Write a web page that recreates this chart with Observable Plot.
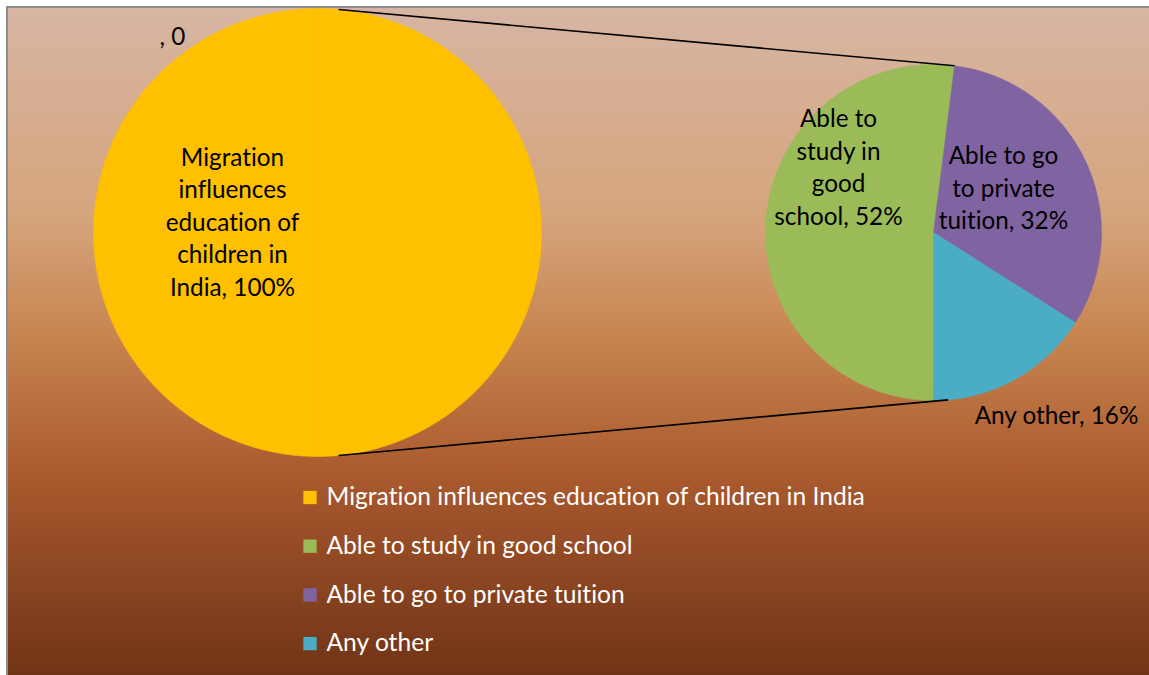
<!DOCTYPE html>
<html>
<head>
<meta charset="utf-8">
<script src="https://cdn.jsdelivr.net/npm/d3@7"></script>
<script src="https://cdn.jsdelivr.net/npm/@observablehq/plot@0.6"></script>
<style>
  html, body { margin: 0; padding: 0; background: #fff; overflow: hidden; }
  #frame {
    position: absolute; left: 6px; top: 6px; width: 1160px; height: 690px;
    border-left: 2px solid #8e8e8e; border-top: 2px solid #8e8e8e;
    background: linear-gradient(to bottom, #d7b5a3 0%, #d5a57c 30%, #c7844f 48%, #ab5b2e 67%, #8b4522 83%, #6a3013 100%);
  }
  #chart { position: absolute; left: 0; top: 0; }
  #chart svg text { font-variant-ligatures: none; font-feature-settings: "liga" 0; }
</style>
</head>
<body>
<div id="frame"></div>
<div id="chart"></div>
<script>
// ---- data ----
const mainCategories = ["Migration influences education of children in India", ""];
const mainValues = [100, 0];
const subCategories = ["Able to study in good school", "Able to go to private tuition", "Any other"];
const subValues = [52, 32, 16];
const legendLabels = ["Migration influences education of children in India", "Able to study in good school", "Able to go to private tuition", "Any other"];
const colors = ["#FFC000", "#9BBB59", "#8064A2", "#4BACC6"];
const mainLabelTexts = ["Migration\ninfluences\neducation of\nchildren in\nIndia, 100%", ", 0"];
const subLabelTexts = ["Able to\nstudy in\ngood\nschool, 52%", "Able to go\nto private\ntuition, 32%", "Any other, 16%"];

// ---- layout ----
const W = 1149, H = 675;
const big = {cx: 317, cy: 232, r: 224};
const small = {cx: 933, cy: 232, r: 168};
const FONT = "Lato, 'Open Sans', sans-serif";

function slicePolys(values, cats, pie, c, colorOf) {
  const arcs = pie(values);
  const pts = [];
  arcs.forEach((a, i) => {
    const span = a.endAngle - a.startAngle;
    const n = Math.max(2, Math.ceil(span / (Math.PI / 360)));
    pts.push({x: c.cx, y: c.cy, k: cats[i] + "#" + i, col: colorOf(i)});
    for (let j = 0; j <= n; j++) {
      const t = a.startAngle + span * j / n;
      pts.push({x: c.cx + c.r * Math.sin(t), y: c.cy - c.r * Math.cos(t), k: cats[i] + "#" + i, col: colorOf(i)});
    }
    pts.push({x: c.cx, y: c.cy, k: cats[i] + "#" + i, col: colorOf(i)});
  });
  return pts;
}

const bigPie = d3.pie().sort(null).startAngle(0).endAngle(2 * Math.PI);
const smallPie = d3.pie().sort(null).startAngle(Math.PI).endAngle(3 * Math.PI);
const bigPts = slicePolys(mainValues, mainCategories, bigPie, big, i => colors[0]);
const smallPts = slicePolys(subValues, subCategories, smallPie, small, i => colors[i + 1]);

function onCircle(c, deg) {
  const t = deg * Math.PI / 180;
  return {x: c.cx + c.r * Math.sin(t), y: c.cy - c.r * Math.cos(t)};
}
// connector lines: big pie edge -> second pie top & bottom
const smallArcs = smallPie(subValues);
const topAng = (smallArcs[0].endAngle * 180 / Math.PI) - 360;
const connectors = [
  {a: onCircle(big, 5.4), b: onCircle(small, topAng)},
  {a: onCircle(big, 174.6), b: onCircle(small, 175)}
].map(d => ({x1: d.a.x, y1: d.a.y, x2: d.b.x, y2: d.b.y}));

const seam = [{x1: big.cx, y1: big.cy - big.r, x2: big.cx, y2: big.cy + big.r}];

const mainLabels = [
  {x: big.cx - 85, y: big.cy - 12, t: mainLabelTexts[0]},
  {x: 172, y: 34, t: mainLabelTexts[1]}
];
const subLabels = [
  {x: small.cx - 95, y: small.cy - 67, t: subLabelTexts[0]},
  {x: small.cx + 70, y: small.cy - 46, t: subLabelTexts[1]},
  {x: small.cx + 123, y: 413, t: subLabelTexts[2]}
];

const legend = legendLabels.map((l, i) => ({x: 309.5, tx: 326, y: 497 + i * 48.7, label: l, col: colors[i]}));

const chart = Plot.plot({
  width: W, height: H,
  margin: 0,
  x: {type: "identity", axis: null},
  y: {type: "identity", axis: null},
  style: {background: "transparent", fontFamily: FONT},
  marks: [
    Plot.line(bigPts, {x: "x", y: "y", z: "k", fill: "col", stroke: "col", strokeWidth: 0.5, curve: "linear"}),
    Plot.link(seam, {x1: "x1", y1: "y1", x2: "x2", y2: "y2", stroke: "#e6ad00", strokeOpacity: 0.3, strokeWidth: 1}),
    Plot.line(smallPts, {x: "x", y: "y", z: "k", fill: "col", stroke: "col", strokeWidth: 0.5, curve: "linear"}),
    Plot.link(connectors, {x1: "x1", y1: "y1", x2: "x2", y2: "y2", stroke: "#000", strokeWidth: 1.6}),
    Plot.text(mainLabels, {x: "x", y: "y", text: "t", fill: "#000", fontSize: 24.3, lineHeight: 1.34, textAnchor: "middle"}),
    Plot.text(subLabels, {x: "x", y: "y", text: "t", fill: "#000", fontSize: 24.3, lineHeight: 1.34, textAnchor: "middle"}),
    Plot.dot(legend, {x: "x", y: "y", symbol: "square", r: 7.5, fill: "col", stroke: "none"}),
    Plot.text(legend, {x: "tx", y: "y", text: "label", fill: "#fff", fontSize: 24.6, textAnchor: "start"})
  ]
});
document.getElementById("chart").appendChild(chart);
</script>
</body>
</html>
